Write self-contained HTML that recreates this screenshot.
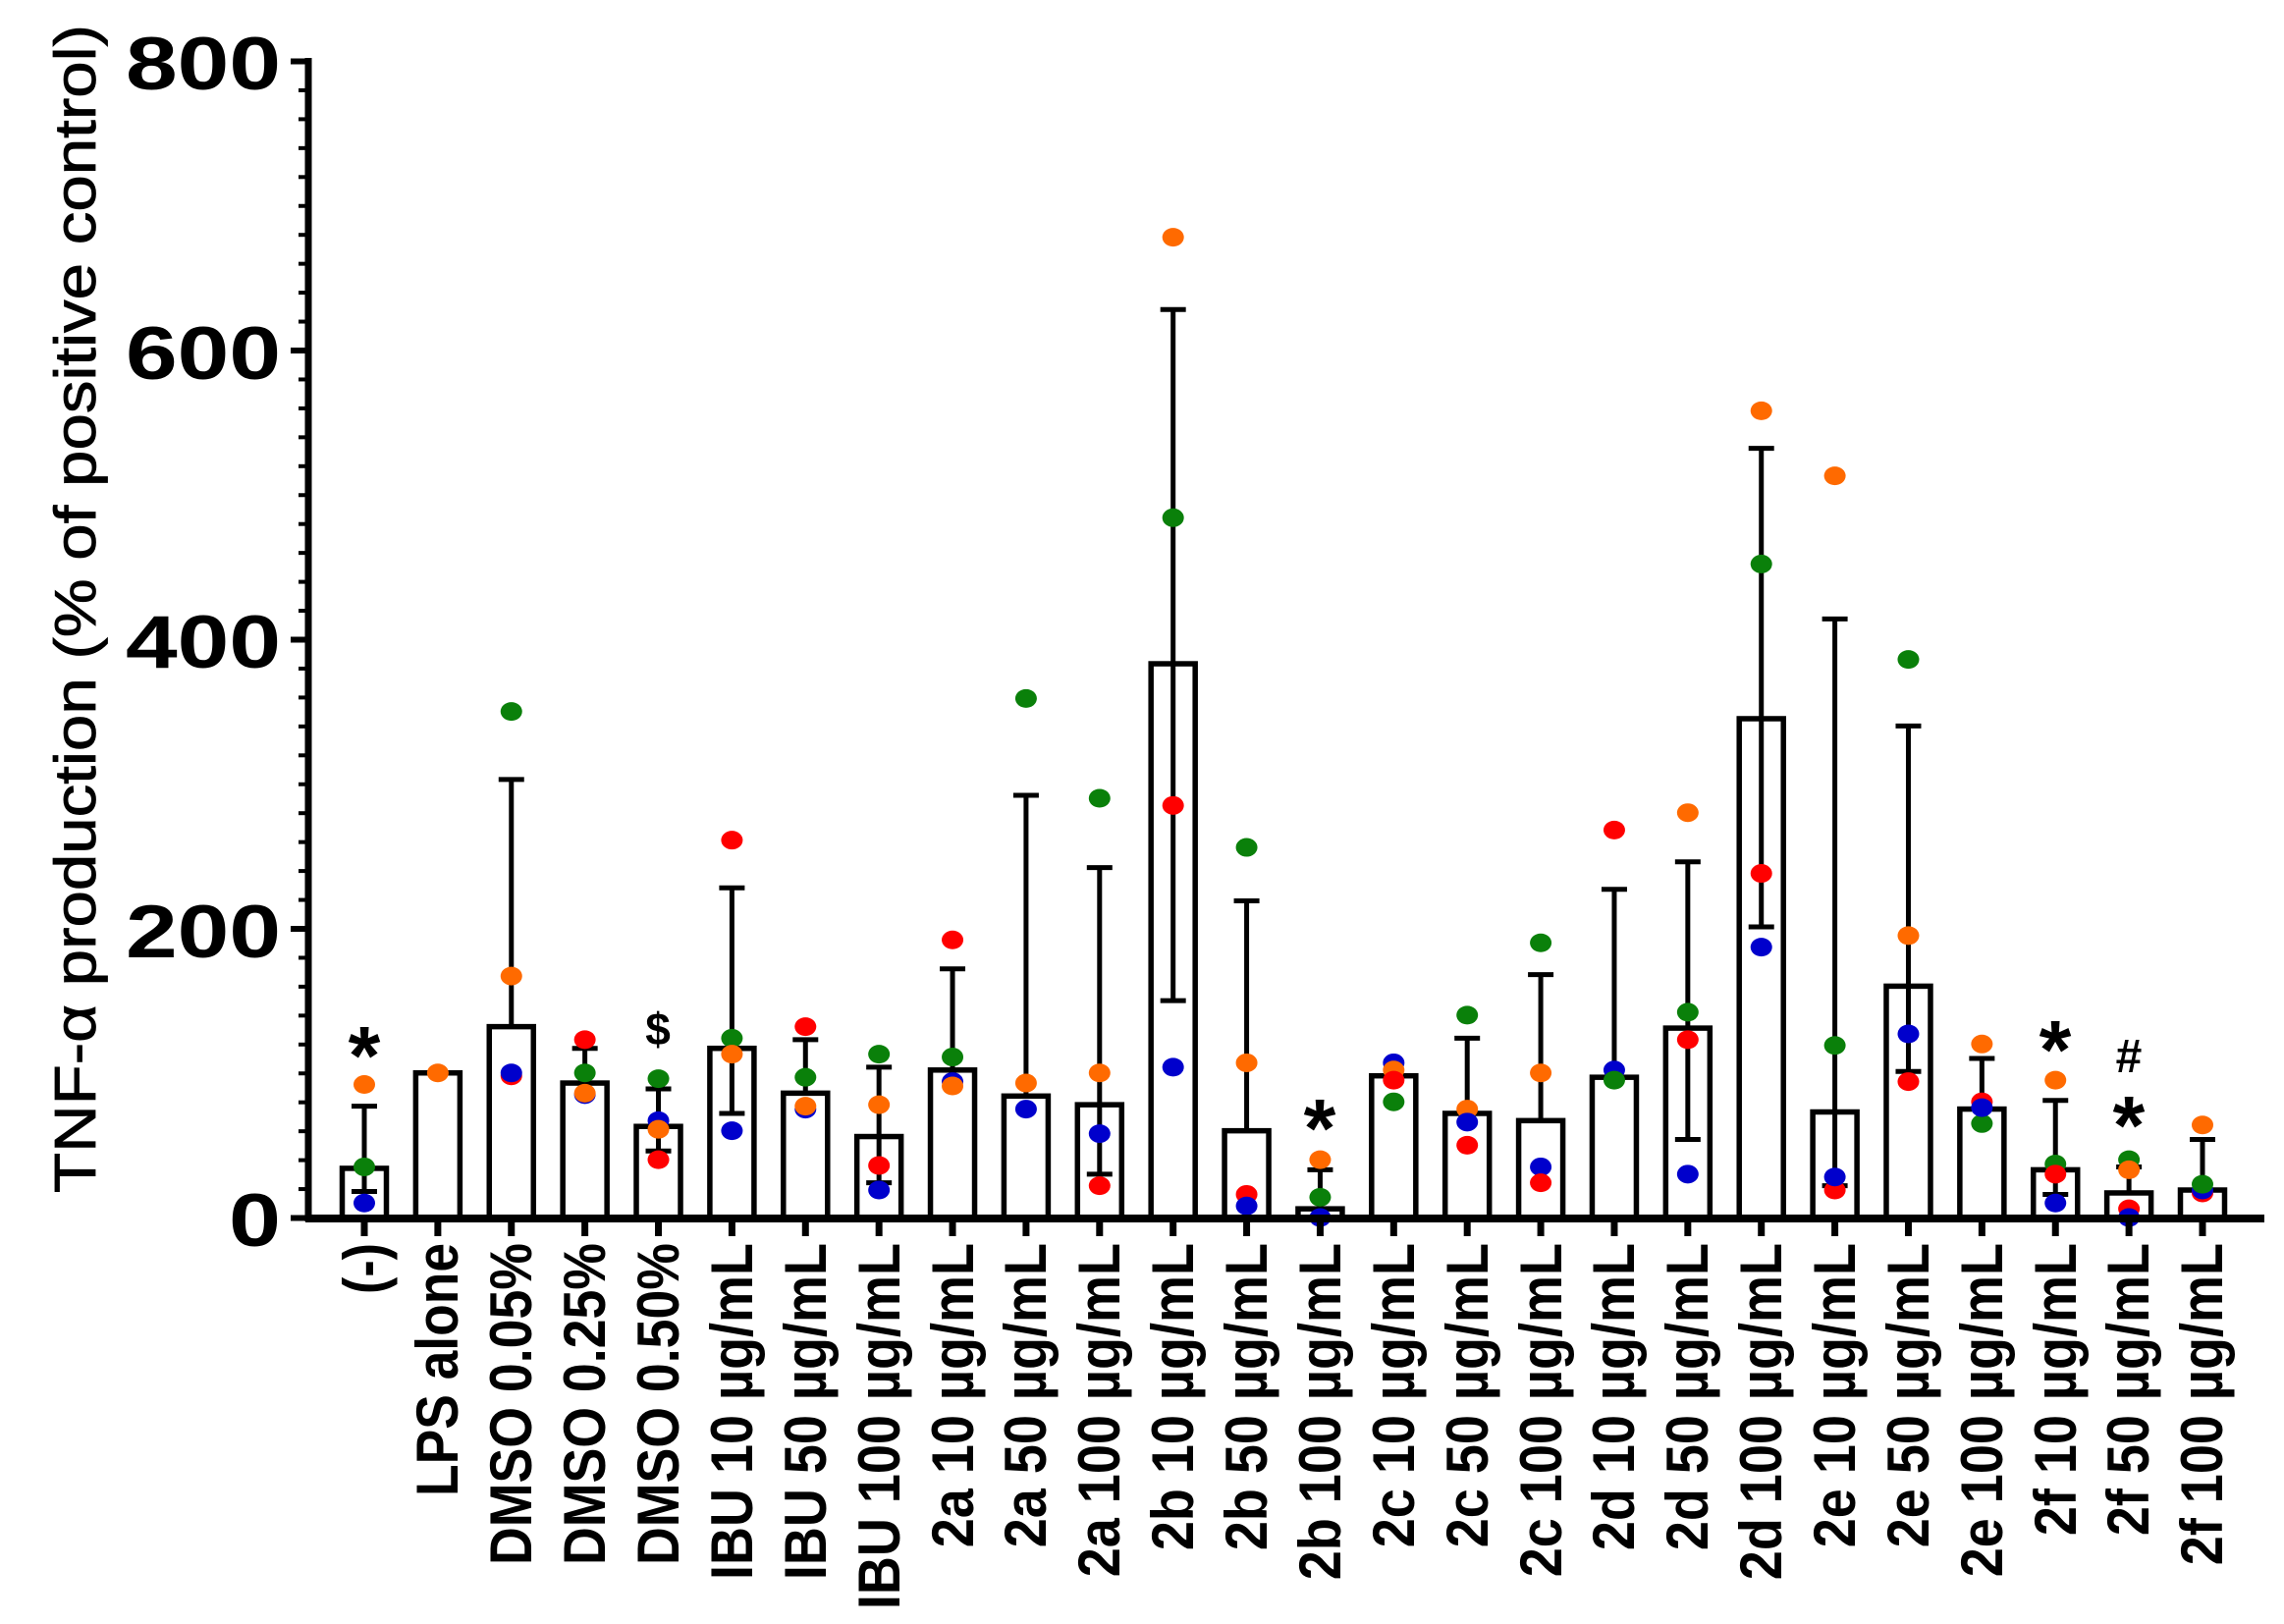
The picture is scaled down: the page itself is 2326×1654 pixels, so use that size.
<!DOCTYPE html>
<html><head><meta charset="utf-8"><style>
html,body{margin:0;padding:0;background:#fff;}
svg{display:block;font-family:"Liberation Sans",Arial,sans-serif;}
</style></head><body>
<svg id="s" width="2326" height="1654" viewBox="0 0 2326 1654" xmlns="http://www.w3.org/2000/svg">
<rect width="2326" height="1654" fill="#fff"/>
<g id="shapes"></g>
<line x1="314" y1="59" x2="314" y2="1244" stroke="#000" stroke-width="7"/>
<line x1="311" y1="1241" x2="2306" y2="1241" stroke="#000" stroke-width="8"/>
<g id="ticks"></g>
<g font-weight="bold" font-size="76" text-anchor="end" fill="#000">
<text x="286" y="91" textLength="158" lengthAdjust="spacingAndGlyphs">800</text>
<text x="286" y="386" textLength="158" lengthAdjust="spacingAndGlyphs">600</text>
<text x="286" y="680" textLength="158" lengthAdjust="spacingAndGlyphs">400</text>
<text x="286" y="975" textLength="158" lengthAdjust="spacingAndGlyphs">200</text>
<text x="286" y="1269" textLength="53" lengthAdjust="spacingAndGlyphs">0</text>
</g>
<text transform="translate(97,620) rotate(-90)" text-anchor="middle" font-size="59" stroke="#000" stroke-width="0.8" textLength="1190" lengthAdjust="spacingAndGlyphs">TNF-α production (% of positive control)</text>
<g font-weight="bold" font-size="54" text-anchor="end" fill="#000">
<text transform="translate(392,1266) rotate(-90) scale(1,1.12)" textLength="52" lengthAdjust="spacingAndGlyphs">(-)</text>
<text transform="translate(466,1266) rotate(-90) scale(1,1.12)" textLength="258" lengthAdjust="spacingAndGlyphs">LPS alone</text>
<text transform="translate(541,1266) rotate(-90) scale(1,1.12)" textLength="328" lengthAdjust="spacingAndGlyphs">DMSO 0.05%</text>
<text transform="translate(616,1266) rotate(-90) scale(1,1.12)" textLength="328" lengthAdjust="spacingAndGlyphs">DMSO 0.25%</text>
<text transform="translate(691,1266) rotate(-90) scale(1,1.12)" textLength="328" lengthAdjust="spacingAndGlyphs">DMSO 0.50%</text>
<text transform="translate(766,1266) rotate(-90) scale(1,1.12)" textLength="343" lengthAdjust="spacingAndGlyphs">IBU 10 µg/mL</text>
<text transform="translate(841,1266) rotate(-90) scale(1,1.12)">IBU 50 µg/mL</text>
<text transform="translate(916,1266) rotate(-90) scale(1,1.12)">IBU 100 µg/mL</text>
<text transform="translate(991,1266) rotate(-90) scale(1,1.12)">2a 10 µg/mL</text>
<text transform="translate(1065,1266) rotate(-90) scale(1,1.12)">2a 50 µg/mL</text>
<text transform="translate(1140,1266) rotate(-90) scale(1,1.12)">2a 100 µg/mL</text>
<text transform="translate(1215,1266) rotate(-90) scale(1,1.12)">2b 10 µg/mL</text>
<text transform="translate(1290,1266) rotate(-90) scale(1,1.12)">2b 50 µg/mL</text>
<text transform="translate(1365,1266) rotate(-90) scale(1,1.12)">2b 100 µg/mL</text>
<text transform="translate(1440,1266) rotate(-90) scale(1,1.12)">2c 10 µg/mL</text>
<text transform="translate(1515,1266) rotate(-90) scale(1,1.12)">2c 50 µg/mL</text>
<text transform="translate(1590,1266) rotate(-90) scale(1,1.12)">2c 100 µg/mL</text>
<text transform="translate(1664,1266) rotate(-90) scale(1,1.12)">2d 10 µg/mL</text>
<text transform="translate(1739,1266) rotate(-90) scale(1,1.12)">2d 50 µg/mL</text>
<text transform="translate(1814,1266) rotate(-90) scale(1,1.12)">2d 100 µg/mL</text>
<text transform="translate(1889,1266) rotate(-90) scale(1,1.12)">2e 10 µg/mL</text>
<text transform="translate(1964,1266) rotate(-90) scale(1,1.12)">2e 50 µg/mL</text>
<text transform="translate(2039,1266) rotate(-90) scale(1,1.12)">2e 100 µg/mL</text>
<text transform="translate(2114,1266) rotate(-90) scale(1,1.12)">2f 10 µg/mL</text>
<text transform="translate(2188,1266) rotate(-90) scale(1,1.12)">2f 50 µg/mL</text>
<text transform="translate(2263,1266) rotate(-90) scale(1,1.12)">2f 100 µg/mL</text>
</g>
<g font-weight="bold" text-anchor="middle" fill="#000">
<text x="371" y="1104" font-size="84">*</text>
<text x="670" y="1064" font-size="46">$</text>
<text x="1344" y="1178" font-size="84">*</text>
<text x="2093" y="1098" font-size="84">*</text>
<text x="2168" y="1175" font-size="84">*</text>
<text x="2168" y="1092" font-size="48">#</text>
</g>
</svg>
<script>
(function(){
var NS="http://www.w3.org/2000/svg";
function Y(v){return 1240-v*1.4725;}
function el(p,t,a){var e=document.createElementNS(NS,t);for(var k in a)e.setAttribute(k,a[k]);p.appendChild(e);return e;}
var O="#ff6a00",G="#0a800a",R="#ff0000",B="#0000cc";
var d=[
[34,77,18,[[O,92],[G,35],[B,10]]],
[100,null,null,[[O,100]]],
[132,303,null,[[G,350],[O,167],[R,98],[B,100]]],
[93,117,null,[[R,123],[G,100],[B,85],[O,86]]],
[63,89,46,[[G,96],[R,40],[B,67],[O,61]]],
[117,228,72,[[R,261],[G,124],[O,113],[B,60]]],
[86,123,null,[[R,132],[G,97],[B,75],[O,77]]],
[56,104,24,[[G,113],[O,78],[R,36],[B,19]]],
[102,172,null,[[R,192],[G,111],[B,94],[O,91]]],
[84,292,null,[[G,359],[B,75],[O,93]]],
[78,242,30,[[G,290],[O,100],[B,58],[R,22]]],
[383,628,150,[[O,678],[G,484],[R,285],[B,104]]],
[60,219,null,[[G,256],[O,107],[R,16],[B,8]]],
[6,33,null,[[O,40],[G,14],[B,0]]],
[98,null,null,[[B,107],[O,102],[R,95],[G,80]]],
[72,124,null,[[G,140],[O,75],[B,66],[R,50]]],
[67,168,null,[[G,190],[O,100],[B,35],[R,24]]],
[97,227,null,[[R,268],[B,102],[G,95]]],
[131,246,54,[[O,280],[G,142],[R,123],[B,30]]],
[345,532,201,[[O,558],[G,452],[R,238],[B,187]]],
[73,414,22,[[O,513],[G,119],[R,19],[B,28]]],
[160,340,101,[[G,386],[O,195],[R,94],[B,127]]],
[75,110,null,[[O,120],[G,65],[R,80],[B,76]]],
[33,81,16,[[O,95],[G,37],[R,30],[B,10]]],
[17,35,null,[[G,40],[O,33],[R,6],[B,0]]],
[19,54,null,[[O,64],[R,17],[B,19],[G,23]]]
];
var g=document.getElementById("shapes"),tk=document.getElementById("ticks");
for(var i=0;i<d.length;i++){
 var x=371+i*74.88,r=d[i];
 el(g,"rect",{x:x-22.5,y:Y(r[0]),width:45,height:1240-Y(r[0]),fill:"#fff",stroke:"#000","stroke-width":5.5});
 if(r[1]!==null){
  var lo=r[2]!==null?r[2]:r[0];
  el(g,"line",{x1:x,y1:Y(r[1]),x2:x,y2:Y(lo),stroke:"#000","stroke-width":5});
  el(g,"line",{x1:x-13,y1:Y(r[1]),x2:x+13,y2:Y(r[1]),stroke:"#000","stroke-width":5});
  if(r[2]!==null)el(g,"line",{x1:x-13,y1:Y(r[2]),x2:x+13,y2:Y(r[2]),stroke:"#000","stroke-width":5});
 }
 for(var j=0;j<r[3].length;j++){
  el(g,"ellipse",{cx:x,cy:Y(r[3][j][1]),rx:11,ry:9.5,fill:r[3][j][0]});
 }
 el(tk,"line",{x1:x,y1:1241,x2:x,y2:1259,stroke:"#000","stroke-width":7});
}
for(var v=0;v<=800;v+=20){
 var y=Y(v)+0.5;
 if(v%200==0)el(tk,"line",{x1:296,y1:y,x2:314,y2:y,stroke:"#000","stroke-width":6});
 else el(tk,"line",{x1:304,y1:y,x2:314,y2:y,stroke:"#000","stroke-width":4});
}
})();
</script>
</body></html>
